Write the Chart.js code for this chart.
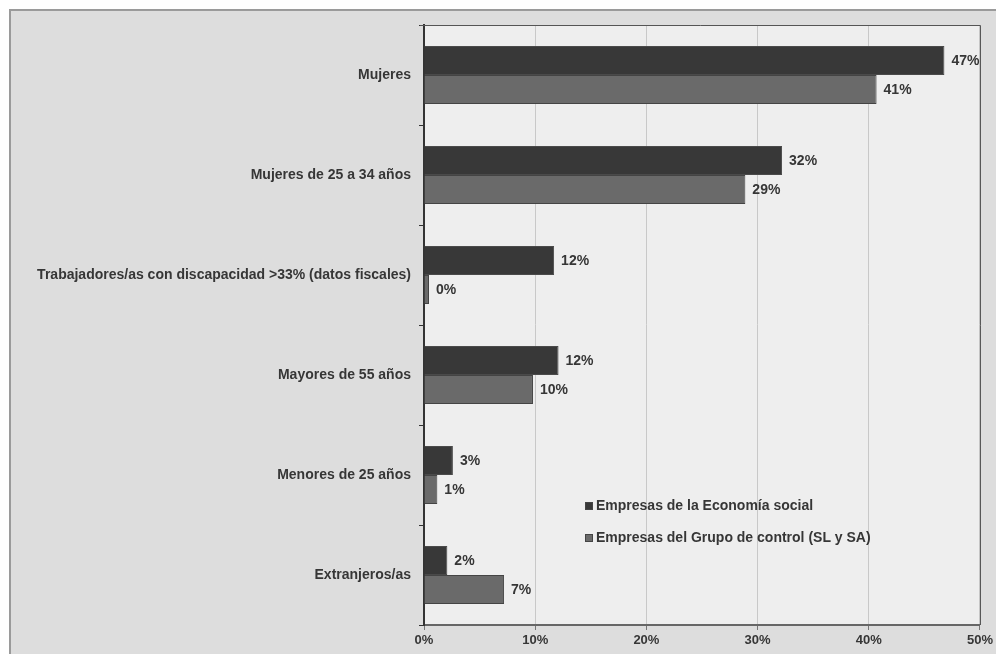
<!DOCTYPE html>
<html>
<head>
<meta charset="utf-8">
<script src="https://cdn.jsdelivr.net/npm/chart.js@4.4.1/dist/chart.umd.min.js"></script>
<style>
  html, body { margin: 0; padding: 0; background: #fff; }
  #wrap { position: relative; width: 996px; height: 654px; }
</style>
</head>
<body>
<div id="wrap"><canvas id="chart"></canvas></div>
<script>
// values, in percent
const categories = [
    'Mujeres',
    'Mujeres de 25 a 34 años',
    'Trabajadores/as con discapacidad >33% (datos fiscales)',
    'Mayores de 55 años',
    'Menores de 25 años',
    'Extranjeros/as'
];
const economiaSocial = [46.8, 32.2, 11.7, 12.1, 2.6, 2.1];
const grupoControl = [40.7, 28.9, 0.45, 9.8, 1.2, 7.2];
const seriesNames = ['Empresas de la Economía social', 'Empresas del Grupo de control (SL y SA)'];
const xTicks = [0, 10, 20, 30, 40, 50];

const font = 'Liberation Sans, Arial, sans-serif';

// grey frame, plot background and top/right edges
const frame = {
    id: 'frame',
    beforeDraw(chart) {
        const { ctx, chartArea: a, width, height } = chart;
        ctx.save();
        ctx.fillStyle = '#ffffff';
        ctx.fillRect(0, 0, width, height);
        ctx.fillStyle = '#dddddd';
        ctx.fillRect(10, 10, width, height);
        ctx.strokeStyle = '#9a9a9a';
        ctx.lineWidth = 2;
        ctx.beginPath();
        ctx.moveTo(10, height);
        ctx.lineTo(10, 10);
        ctx.lineTo(width, 10);
        ctx.stroke();
        ctx.fillStyle = '#eeeeee';
        ctx.fillRect(a.left, a.top, a.right - a.left, a.bottom - a.top);
        ctx.restore();
    },
    afterDraw(chart) {
        const { ctx, chartArea: a } = chart;
        ctx.save();
        ctx.strokeStyle = '#555';
        ctx.lineWidth = 1;
        ctx.beginPath();
        ctx.moveTo(a.left - 4, a.top + 0.5);
        ctx.lineTo(a.right + 0.5, a.top + 0.5);
        ctx.lineTo(a.right + 0.5, a.bottom);
        ctx.stroke();
        ctx.restore();
    }
};

// percentage labels at the end of each bar
const valueLabels = {
    id: 'valueLabels',
    afterDatasetsDraw(chart) {
        const ctx = chart.ctx;
        ctx.save();
        ctx.font = 'bold 14px ' + font;
        ctx.fillStyle = '#363636';
        ctx.textAlign = 'left';
        ctx.textBaseline = 'middle';
        chart.data.datasets.forEach((ds, i) => {
            chart.getDatasetMeta(i).data.forEach((bar, j) => {
                ctx.fillText(Math.round(ds.data[j]) + '%', bar.x + 7, bar.y + 1);
            });
        });
        ctx.restore();
    }
};

// legend inside the plot, lower middle
const innerLegend = {
    id: 'innerLegend',
    afterDraw(chart) {
        const { ctx, chartArea: a } = chart;
        ctx.save();
        ctx.font = 'bold 14px ' + font;
        ctx.textBaseline = 'middle';
        chart.data.datasets.forEach((ds, i) => {
            const x = a.left + 161;
            const y = a.top + 481 + i * 32;
            ctx.fillStyle = ds.backgroundColor;
            ctx.strokeStyle = '#444';
            ctx.lineWidth = 1;
            ctx.fillRect(x, y - 4, 8, 8);
            ctx.strokeRect(x + 0.5, y - 3.5, 7, 7);
            ctx.fillStyle = '#363636';
            ctx.fillText(ds.label, x + 11, y);
        });
        ctx.restore();
    }
};

new Chart(document.getElementById('chart'), {
    type: 'bar',
    data: {
        labels: categories,
        datasets: [{
            label: seriesNames[0],
            data: economiaSocial,
            backgroundColor: '#383838',
            borderColor: '#4a4a4a',
            borderWidth: 1,
            borderSkipped: 'start'
        }, {
            label: seriesNames[1],
            data: grupoControl,
            backgroundColor: '#6a6a6a',
            borderColor: '#444444',
            borderWidth: 1,
            borderSkipped: 'start'
        }]
    },
    options: {
        indexAxis: 'y',
        responsive: true,
        maintainAspectRatio: false,
        animation: false,
        categoryPercentage: 0.58,
        barPercentage: 1,
        layout: { padding: { top: 25, right: 14, left: 0, bottom: 0 } },
        plugins: {
            legend: { display: false },
            tooltip: { enabled: false }
        },
        scales: {
            x: {
                min: 0,
                max: 50,
                afterBuildTicks(scale) {
                    scale.ticks = xTicks.map(v => ({ value: v }));
                },
                afterFit(scale) { scale.height = 29; },
                grid: { color: '#c8c8c8', tickLength: 5, tickColor: '#777' },
                border: { color: '#666', width: 2 },
                ticks: {
                    padding: 3,
                    color: '#363636',
                    font: { family: font, size: 13, weight: 'bold' },
                    callback: v => v + '%'
                }
            },
            y: {
                afterFit(scale) { scale.width = 424; },
                grid: { offset: true, drawOnChartArea: false, tickLength: 5, tickColor: '#333' },
                border: { color: '#333', width: 2 },
                ticks: {
                    padding: 8,
                    color: '#363636',
                    font: { family: font, size: 14, weight: 'bold' }
                }
            }
        }
    },
    plugins: [frame, valueLabels, innerLegend]
});
</script>
</body>
</html>
